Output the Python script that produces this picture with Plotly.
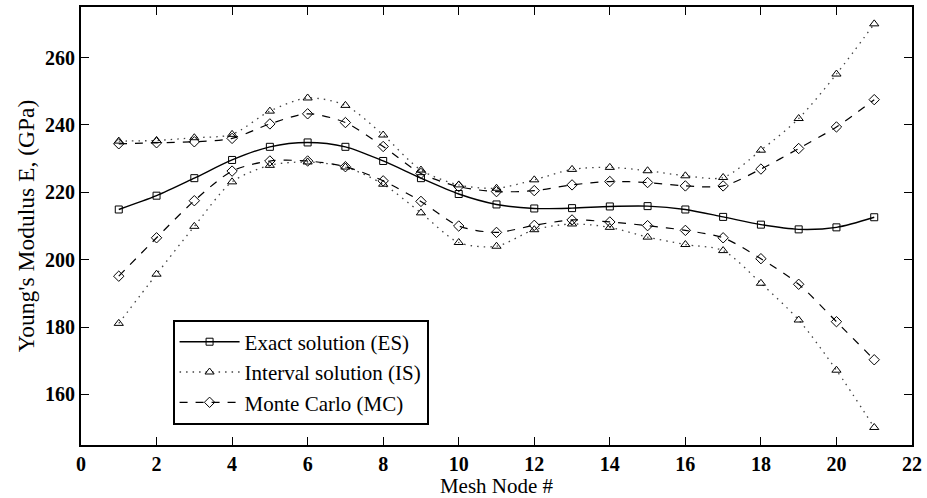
import plotly.graph_objects as go

nodes = list(range(1, 22))
es = [214.9, 219.0, 224.2, 229.6, 233.5, 234.8, 233.5, 229.3, 224.2, 219.5, 216.4,
      215.2, 215.3, 215.8, 215.9, 214.9, 212.7, 210.4, 209.0, 209.6, 212.6]
is_upper = [235.2, 235.4, 236.2, 237.2, 244.1, 248.0, 245.8, 237.0, 226.6, 222.2, 221.2,
            223.7, 226.8, 227.4, 226.4, 224.9, 224.4, 232.5, 241.9, 255.1, 270.0]
is_lower = [181.1, 195.7, 209.9, 223.1, 228.0, 229.0, 227.5, 222.4, 213.9, 205.1, 204.0,
            208.9, 210.6, 209.6, 206.7, 204.5, 202.7, 193.0, 182.1, 167.2, 150.2]
mc_upper = [234.4, 234.7, 235.0, 236.0, 240.3, 243.3, 240.7, 233.6, 225.6, 221.7, 220.2,
            220.5, 222.2, 223.2, 222.9, 221.9, 221.9, 226.9, 233.0, 239.4, 247.5]
mc_lower = [195.1, 206.5, 217.5, 226.3, 229.3, 229.3, 227.6, 223.4, 217.3, 210.0, 208.1,
            210.2, 211.8, 211.2, 210.1, 208.7, 206.5, 200.3, 192.7, 181.6, 170.3]

x_ticks = list(range(0, 23, 2))
y_ticks = [160, 180, 200, 220, 240, 260]

FONT = "Liberation Serif"
fig = go.Figure()

def add(y, name, dash, symbol, msize, show, group, width=1.2, color="black"):
    fig.add_trace(go.Scatter(
        x=nodes, y=y, mode="lines+markers", name=name,
        legendgroup=group, showlegend=show,
        line=dict(color=color, width=width, dash=dash, shape="spline", smoothing=0.8),
        marker=dict(symbol=symbol, size=msize, color="black",
                    line=dict(color="black", width=1)),
    ))

add(es, "Exact solution (ES)", "solid", "square-open", 7, True, "es", 1.4)
add(is_upper, "Interval solution (IS)", "1.5px,5px", "triangle-up-open", 8, True, "is", 1.3, "#444")
add(is_lower, "Interval solution (IS)", "1.5px,5px", "triangle-up-open", 8, False, "is", 1.3, "#444")
add(mc_upper, "Monte Carlo (MC)", "8px,8px", "diamond-open", 8, True, "mc", 1.2)
add(mc_lower, "Monte Carlo (MC)", "8px,8px", "diamond-open", 8, False, "mc", 1.2)

axis_common = dict(showline=True, linecolor="black", linewidth=2, mirror="ticks",
                   ticks="inside", ticklen=8, tickwidth=1, tickcolor="black",
                   showgrid=False, zeroline=False,
                   tickfont=dict(family=FONT, size=20, color="black", weight="bold"))

fig.update_layout(
    width=927, height=498,
    margin=dict(l=81, r=11, t=5, b=53),
    paper_bgcolor="white", plot_bgcolor="white",
    font=dict(family=FONT, color="black"),
    xaxis=dict(range=[0, 22], tickvals=x_ticks, ticklabelstandoff=0,
               title=dict(text="Mesh Node #", font=dict(family=FONT, size=21, color="black"),
                          standoff=0),
               **axis_common),
    yaxis=dict(range=[145, 275], tickvals=y_ticks, ticklabelstandoff=0,
               title=dict(text="Young's Modulus E, (GPa)",
                          font=dict(family=FONT, size=23.5, color="black"), standoff=4),
               **axis_common),
    legend=dict(x=0.1102, y=0.2864, xanchor="left", yanchor="top",
                bordercolor="black", borderwidth=2, bgcolor="white",
                font=dict(family=FONT, size=21, color="black"),
                tracegroupgap=0, itemwidth=60),
)

fig.write_html("out.html", config={"displayModeBar": False},
               post_script="document.body.style.margin='0';document.body.style.overflow='hidden';")
